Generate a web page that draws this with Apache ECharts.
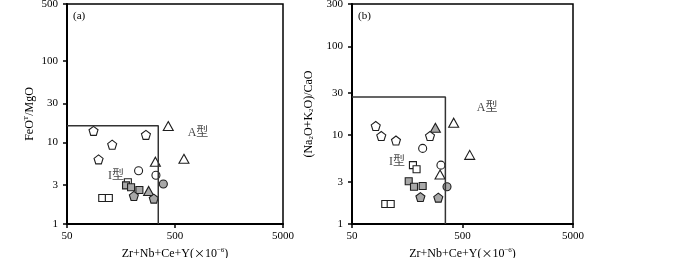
<!DOCTYPE html>
<html><head><meta charset="utf-8">
<script src="https://cdn.jsdelivr.net/npm/echarts@6/dist/echarts.min.js"></script>
<style>html,body{margin:0;padding:0;background:#fff}#c{width:700px;height:258px}</style>
</head><body><div id="c"></div><script>
// ---- data (raw values, log axes) ----
const xTicks = [50, 500, 5000];
const yTicksA = [1, 3, 10, 30, 100, 500];
const yTicksB = [1, 3, 10, 30, 100, 300];
const boundaryA = [350, 16];
const boundaryB = [350, 27];

// panel (a): Zr+Nb+Ce+Y vs FeOT/MgO
const aOpenPentagon = [[88,13.9],[269,12.4],[131,9.4],[98,6.2]];
const aGreyPentagon = [[208,2.21],[318,2.05]];
const aOpenTriangle = [[433,15.9],[605,6.3],[329,5.8]];
const aGreyTriangle = [[285,2.54]];
const aOpenCircle = [[230,4.5],[333,3.96]];
const aGreyCircle = [[390,3.1]];
const aOpenSquare = [[183,3.25],[106,2.08],[122,2.08]];
const aGreySquare = [[176,2.98],[196,2.82],[234,2.61]];
const aTypeLabels = [['A型', 817, 13.1], ['I型', 142, 3.88]];

// panel (b): Zr+Nb+Ce+Y vs (Na2O+K2O)/CaO
const bOpenPentagon = [[82,12.7],[92,9.8],[125,8.7],[254,9.8]];
const bGreyPentagon = [[208,2.01],[302,1.98]];
const bOpenTriangle = [[416,13.8],[581,6.0],[313,3.6]];
const bGreyTriangle = [[284,12.1]];
const bOpenCircle = [[218,7.1],[319,4.6]];
const bGreyCircle = [[362,2.63]];
const bOpenSquare = [[178,4.6],[192,4.13],[100,1.68],[112,1.68]];
const bGreySquare = [[163,3.03],[182,2.63],[218,2.68]];
const bTypeLabels = [['A型', 834, 20.2], ['I型', 128, 4.99]];

// ---- chart ----
const L = v => Math.log10(v);
const FONT = '"Liberation Serif","Times New Roman","Noto Sans CJK SC",serif';
const CJK = '"Noto Sans CJK SC",sans-serif';
const PENT = 'path://M50,0L97.55,34.55L79.39,90.45L20.61,90.45L2.45,34.55Z';
const OPEN = '#ffffff', GREY = '#a8a8a8', STROKE = '#1e1e1e';
const pts = arr => arr.map(p => [L(p[0]), L(p[1])]);
const fmt = v => String(Math.round(Math.pow(10, v)));
const rich = {
  n: {fontSize: 12, fontFamily: FONT, color: '#000'},
  x: {fontSize: 11, fontFamily: CJK, color: '#000'},
  sup: {fontSize: 7, fontFamily: FONT, color: '#000', padding: [0, 0, 7, 0]},
  sub: {fontSize: 7, fontFamily: FONT, color: '#000', padding: [6, 0, 0, 0]}
};

function xAxis(i) {
  return {
    type: 'value', gridIndex: i, min: L(50), max: L(5000),
    axisLine: {show: true, onZero: false, lineStyle: {color: '#000', width: 2}},
    axisTick: {show: true, customValues: xTicks.map(L), length: 4, lineStyle: {color: '#000', width: 1.5}},
    axisLabel: {customValues: xTicks.map(L), formatter: fmt, fontFamily: FONT, fontSize: 11, color: '#000', margin: 7},
    splitLine: {show: false},
    name: '{n|Zr+Nb+Ce+Y(}{x|×}{n|10}{sup|−6}{n|)}', nameLocation: 'middle', nameGap: 22,
    nameTextStyle: {rich: rich}
  };
}
function yAxis(i, ticks, max, name, gap) {
  return {
    type: 'value', gridIndex: i, min: 0, max: L(max),
    axisLine: {show: true, onZero: false, lineStyle: {color: '#000', width: 2}},
    axisTick: {show: true, customValues: ticks.map(L), length: 4, lineStyle: {color: '#000', width: 1.5}},
    axisLabel: {customValues: ticks.map(L), formatter: fmt, fontFamily: FONT, fontSize: 11, color: '#000', margin: 9},
    splitLine: {show: false},
    name: name, nameLocation: 'middle', nameGap: gap,
    nameTextStyle: {rich: rich}
  };
}
function scatter(i, data, symbol, size, fill) {
  return {
    type: 'scatter', xAxisIndex: i, yAxisIndex: i, data: pts(data),
    symbol: symbol, symbolSize: size, silent: true,
    itemStyle: {color: fill, borderColor: STROKE, borderWidth: 1.1, opacity: 1}
  };
}
function boundary(i, b) {
  return {
    type: 'line', xAxisIndex: i, yAxisIndex: i, symbol: 'none', silent: true,
    data: [[L(50), L(b[1])], [L(b[0]), L(b[1])], [L(b[0]), 0]],
    lineStyle: {color: '#333', width: 1.5}
  };
}
function labels(i, arr) {
  return {
    type: 'scatter', xAxisIndex: i, yAxisIndex: i, silent: true, symbolSize: 1,
    itemStyle: {color: 'transparent'},
    data: arr.map(a => ({name: a[0], value: [L(a[1]), L(a[2])]})),
    label: {show: true, position: 'inside', formatter: p => p.name, fontFamily: FONT, fontSize: 12, color: '#111'}
  };
}
function panel(i, d) {
  return [
    boundary(i, d.b),
    scatter(i, d.os, 'rect', 7, OPEN),
    scatter(i, d.gs, 'rect', 7, GREY),
    scatter(i, d.oc, 'circle', 8, OPEN),
    scatter(i, d.gc, 'circle', 8, GREY),
    scatter(i, d.gt, 'triangle', [10, 9], GREY),
    scatter(i, d.ot, 'triangle', [10, 9], OPEN),
    scatter(i, d.op, PENT, [9, 9], OPEN),
    scatter(i, d.gp, PENT, [9, 9], GREY),
    labels(i, d.lab)
  ];
}

const chart = echarts.init(document.getElementById('c'), null, {renderer: 'canvas'});
chart.setOption({
  animation: false,
  backgroundColor: '#fff',
  grid: [
    {left: 67, width: 216, top: 4, height: 220, show: true, borderColor: '#000', borderWidth: 1.5,
      backgroundColor: 'transparent', containLabel: false, outerBoundsMode: 'none'},
    {left: 352, width: 221, top: 4, height: 220, show: true, borderColor: '#000', borderWidth: 1.5,
      backgroundColor: 'transparent', containLabel: false, outerBoundsMode: 'none'}
  ],
  xAxis: [xAxis(0), xAxis(1)],
  yAxis: [
    yAxis(0, yTicksA, 500, '{n|FeO}{sup|T}{n|/MgO}', 30),
    yAxis(1, yTicksB, 300, '{n|(Na}{sub|2}{n|O+K}{sub|2}{n|O)/CaO}', 37)
  ],
  graphic: [
    {type: 'text', left: 73, top: 11, style: {text: '(a)', font: '11px ' + FONT, fill: '#000'}},
    {type: 'text', left: 358, top: 11, style: {text: '(b)', font: '11px ' + FONT, fill: '#000'}}
  ],
  series: [].concat(
    panel(0, {b: boundaryA, os: aOpenSquare, gs: aGreySquare, oc: aOpenCircle, gc: aGreyCircle,
      gt: aGreyTriangle, ot: aOpenTriangle, op: aOpenPentagon, gp: aGreyPentagon, lab: aTypeLabels}),
    panel(1, {b: boundaryB, os: bOpenSquare, gs: bGreySquare, oc: bOpenCircle, gc: bGreyCircle,
      gt: bGreyTriangle, ot: bOpenTriangle, op: bOpenPentagon, gp: bGreyPentagon, lab: bTypeLabels})
  )
});
</script></body></html>
